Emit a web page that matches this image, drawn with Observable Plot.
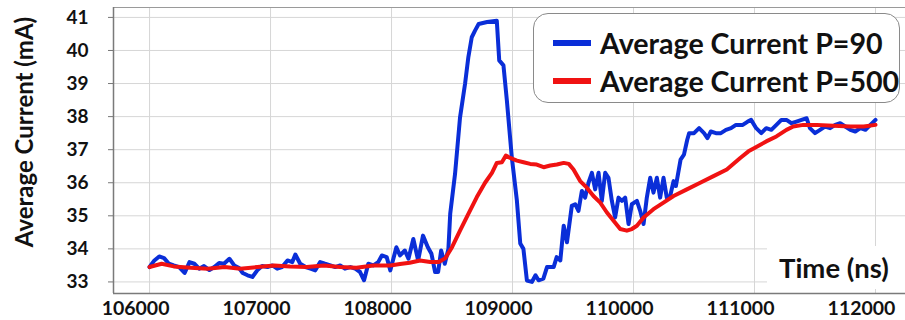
<!DOCTYPE html>
<html><head><meta charset="utf-8">
<script src="https://cdn.jsdelivr.net/npm/d3@7"></script>
<script src="https://cdn.jsdelivr.net/npm/@observablehq/plot@0.6"></script>
<style>
body{margin:0;background:#fff;}
#wrap{position:relative;width:905px;height:320px;overflow:hidden;font-family:Lato,"Open Sans",sans-serif;font-weight:700;color:#111;}
#legend{position:absolute;left:533px;top:13px;width:367px;height:90px;border:1.5px solid #8a8a8a;border-radius:15px;background:#fff;box-sizing:border-box;}
.li{position:absolute;left:0;height:32px;display:flex;align-items:center;font-size:28.6px;white-space:nowrap;}
.sw{display:inline-block;width:38px;height:6px;margin-left:19px;margin-right:9px;}
#xlab{position:absolute;left:767px;top:246px;width:138px;height:43px;background:#fff;font-size:27.5px;line-height:43px;padding-left:12px;box-sizing:border-box;white-space:nowrap;}
#ylab{position:absolute;left:23px;top:132px;transform:translate(-50%,-50%) rotate(-90deg);font-size:24px;white-space:nowrap;}
</style></head><body><div id="wrap"></div>
<script>
const timeP90 = [106000,106040,106080,106120,106160,106200,106245,106290,106330,106370,106410,106450,106495,106535,106575,106615,106660,106700,106740,106770,106810,106850,106890,106930,106975,107015,107055,107095,107140,107180,107205,107245,107290,107330,107370,107410,107450,107495,107535,107575,107615,107660,107700,107740,107773,107808,107850,107890,107920,107960,107990,108040,108070,108110,108140,108180,108220,108260,108300,108330,108360,108385,108410,108440,108470,108485,108525,108566,108608,108635,108663,108690,108720,108790,108870,108890,108925,108953,108994,109036,109064,109090,109119,109160,109190,109215,109255,109285,109340,109365,109395,109423,109450,109490,109518,109545,109573,109600,109628,109656,109683,109711,109738,109766,109793,109821,109848,109876,109904,109931,109959,109986,110028,110055,110083,110110,110138,110165,110193,110220,110248,110275,110303,110331,110350,110389,110417,110444,110460,110500,110542,110583,110611,110639,110681,110722,110764,110806,110847,110903,110944,110972,111014,111056,111097,111139,111181,111222,111264,111306,111347,111389,111431,111458,111500,111542,111583,111625,111667,111708,111750,111792,111833,111875,111917,111958,112000];
const currentP90 = [33.45,33.65,33.77,33.72,33.55,33.5,33.45,33.27,33.6,33.55,33.4,33.48,33.36,33.45,33.57,33.55,33.7,33.5,33.42,33.27,33.2,33.15,33.35,33.48,33.45,33.5,33.4,33.45,33.65,33.6,33.83,33.55,33.45,33.4,33.35,33.6,33.55,33.5,33.45,33.5,33.4,33.45,33.4,33.3,33.05,33.55,33.5,33.6,33.8,33.75,33.35,34.05,33.8,33.95,33.7,34.3,33.65,34.4,34.05,33.85,33.3,33.3,33.95,33.55,34.0,35.06,36.27,37.97,39.0,39.8,40.4,40.6,40.8,40.86,40.9,39.7,39.55,38.5,36.77,35.46,34.16,34.0,33.04,33.0,33.2,33.05,33.1,33.45,33.45,33.75,33.65,34.7,34.2,35.3,35.35,35.15,35.75,35.55,36.0,36.3,35.8,36.3,35.45,36.3,36.15,35.45,34.95,35.55,35.45,35.55,34.75,35.35,35.45,35.15,34.75,35.55,36.15,35.7,36.15,35.55,36.15,35.55,35.6,36.05,35.9,36.7,36.85,37.3,37.5,37.5,37.65,37.5,37.35,37.55,37.5,37.5,37.6,37.65,37.75,37.75,37.85,37.9,37.65,37.5,37.65,37.6,37.75,37.9,37.9,37.8,37.85,37.9,37.95,37.65,37.5,37.6,37.7,37.65,37.75,37.8,37.7,37.6,37.55,37.65,37.6,37.75,37.9];
const timeP500 = [106000,106100,106200,106340,106480,106620,106750,106890,107030,107160,107300,107440,107575,107710,107850,107990,108070,108150,108235,108320,108390,108445,108500,108566,108635,108704,108773,108830,108870,108912,108945,108981,109036,109091,109146,109200,109257,109312,109367,109423,109465,109504,109559,109614,109669,109725,109780,109835,109890,109945,109986,110028,110083,110165,110248,110331,110441,110551,110661,110771,110882,110950,111000,111097,111181,111264,111320,111403,111514,111653,111792,111903,112000];
const currentP500 = [33.45,33.55,33.47,33.43,33.4,33.45,33.4,33.45,33.5,33.47,33.45,33.5,33.45,33.43,33.5,33.5,33.54,33.58,33.65,33.6,33.6,33.72,34.05,34.55,35.06,35.56,36.0,36.3,36.6,36.62,36.82,36.75,36.67,36.62,36.57,36.55,36.47,36.52,36.55,36.6,36.57,36.4,36.05,35.85,35.6,35.4,35.1,34.85,34.6,34.55,34.6,34.7,34.95,35.2,35.4,35.6,35.8,36.0,36.2,36.4,36.75,36.95,37.05,37.25,37.4,37.6,37.7,37.75,37.75,37.72,37.7,37.7,37.75];
const xTicks = [106000,107000,108000,109000,110000,111000,112000];
const yTicks = [33,34,35,36,37,38,39,40,41];
const xDomain = [105702, 112248];
const yDomain = [32.65, 41.3];
const seriesNames = ["Average Current P=90","Average Current P=500"];
const seriesColors = ["#0a2ed8","#f01212"];
const xLabel = "Time (ns)";
const yLabel = "Average Current (mA)";

const p90 = timeP90.map((t,i)=>({t, v: currentP90[i]}));
const p500 = timeP500.map((t,i)=>({t, v: currentP500[i]}));

const chart = Plot.plot({
  width: 905, height: 320,
  marginLeft: 113, marginRight: 0, marginTop: 7, marginBottom: 27,
  style: {fontFamily: "Lato, 'Open Sans', sans-serif", fontWeight: 700, fontSize: "19px", color: "#111", background: "white", overflow: "visible"},
  x: {domain: xDomain},
  y: {domain: yDomain},
  marks: [
    Plot.gridX(xTicks, {stroke: "#d6d6d6", strokeOpacity: 1}),
    Plot.gridY(yTicks, {stroke: "#d6d6d6", strokeOpacity: 1}),
    Plot.ruleY([yDomain[1]], {stroke: "#9a9a9a", strokeWidth: 1.2}),
    Plot.ruleX([xDomain[0]], {stroke: "#7a7a7a", strokeWidth: 1.5}),
    Plot.ruleY([yDomain[0]], {stroke: "#7a7a7a", strokeWidth: 1.5}),
    Plot.axisY(yTicks, {tickSize: 5, tickPadding: 20, label: null, fontSize: 19, stroke: "#777"}),
    Plot.axisX(xTicks, {tickSize: 0, tickPadding: 8, dx: -14, label: null, fontSize: 19.5, tickFormat: d3.format("d")}),
    Plot.line(p90, {x: "t", y: "v", stroke: seriesColors[0], strokeWidth: 4, strokeLinejoin: "round"}),
    Plot.line(p500, {x: "t", y: "v", stroke: seriesColors[1], strokeWidth: 4, strokeLinejoin: "round"})
  ]
});
const wrap = document.getElementById("wrap");
wrap.appendChild(chart);

const legend = document.createElement("div");
legend.id = "legend";
seriesNames.forEach((name, i) => {
  const row = document.createElement("div");
  row.className = "li";
  row.style.top = (i === 0 ? 13 : 51) + "px";
  const sw = document.createElement("span");
  sw.className = "sw";
  sw.style.background = seriesColors[i];
  row.appendChild(sw);
  row.appendChild(document.createTextNode(name));
  legend.appendChild(row);
});
wrap.appendChild(legend);

const xl = document.createElement("div");
xl.id = "xlab"; xl.textContent = xLabel;
wrap.appendChild(xl);
const yl = document.createElement("div");
yl.id = "ylab"; yl.textContent = yLabel;
wrap.appendChild(yl);
</script>
</body></html>
